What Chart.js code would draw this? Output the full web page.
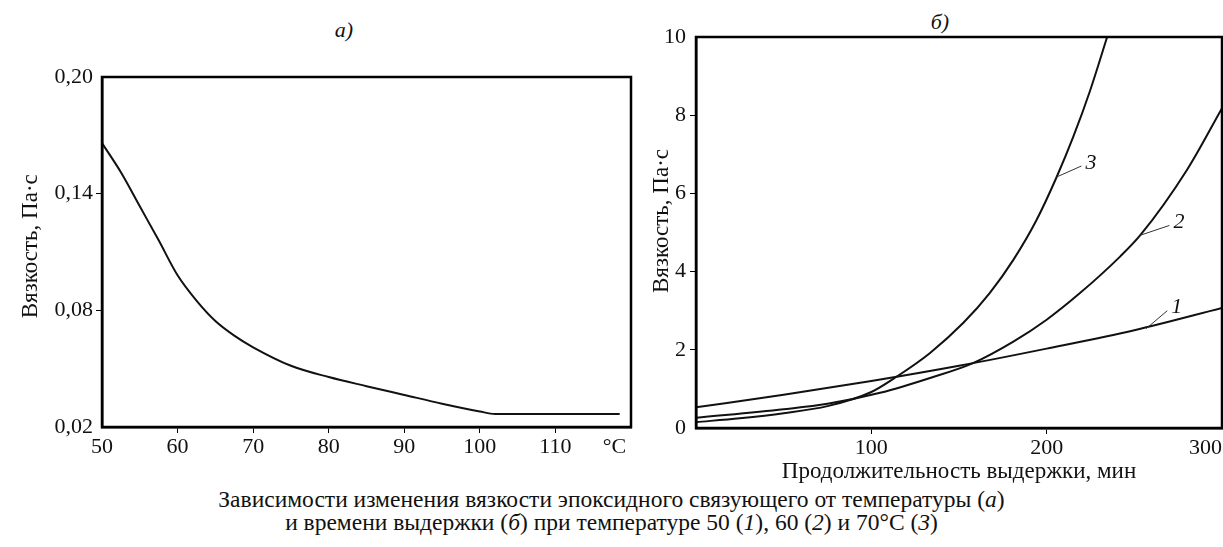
<!DOCTYPE html>
<html lang="ru">
<head>
<meta charset="utf-8">
<script src="https://cdn.jsdelivr.net/npm/chart.js@4.4.1/dist/chart.umd.min.js"></script>
<style>
  html, body { margin: 0; padding: 0; background: #fff; }
  body { width: 1223px; height: 547px; position: relative; overflow: hidden; font-family: 'Liberation Serif', serif; color: #111; }
  .box { position: absolute; }
  #boxA { left: 0; top: 0; width: 645px; height: 465px; }
  #boxB { left: 640px; top: 0; width: 583px; height: 486px; }
  .tag { position: absolute; font-style: italic; font-size: 22px; transform: translate(-50%, -50%); }
  #caption { position: absolute; left: 0; width: 1223px; top: 488px; text-align: center; font-size: 23.5px; line-height: 23px; }
</style>
</head>
<body>
<div class="tag" style="left:344px; top:30px">а)</div>
<div class="tag" style="left:940px; top:22px">б)</div>
<div id="boxA" class="box"><canvas id="chartA"></canvas></div>
<div id="boxB" class="box"><canvas id="chartB"></canvas></div>
<div id="caption">Зависимости изменения вязкости эпоксидного связующего от температуры (<i>а</i>)<br>и времени выдержки (<i>б</i>) при температуре 50 (<i>1</i>), 60 (<i>2</i>) и 70°С (<i>3</i>)</div>
<script>
// а) вязкость от температуры
const tempC = [50, 52.5, 55, 57.5, 60, 62.5, 65, 67.5, 70, 75, 80, 85, 90, 95, 100, 102, 118.5];
const viscTemp = [0.166, 0.151, 0.1335, 0.116, 0.098, 0.085, 0.0745, 0.067, 0.061, 0.0515, 0.0457, 0.041, 0.0365, 0.032, 0.028, 0.0267, 0.0267];
const tempTicks = [50, 60, 70, 80, 90, 100, 110, 120];
const viscTicksA = [0.02, 0.08, 0.14, 0.20];

// б) вязкость от времени выдержки при 50, 60 и 70 °C
const time1 = [0, 50, 100, 150, 200, 250, 300];
const visc1 = [0.53, 0.85, 1.2, 1.59, 2.03, 2.5, 3.07];
const time2 = [0, 50, 75, 105, 133.5, 158, 181, 200, 219, 242, 253.4, 280, 300];
const visc2 = [0.26, 0.48, 0.62, 0.9, 1.28, 1.66, 2.21, 2.77, 3.45, 4.39, 4.93, 6.6, 8.18];
const time3 = [0, 25, 50, 75, 100, 115, 133.5, 152.5, 167.5, 181, 194, 205.7, 215.2, 224.7, 234.5];
const visc3 = [0.15, 0.25, 0.38, 0.56, 0.92, 1.33, 1.92, 2.69, 3.45, 4.3, 5.3, 6.42, 7.45, 8.62, 10];
const timeTicks = [0, 100, 200, 300];
const viscTicksB = [0, 2, 4, 6, 8, 10];

// номера кривых и выноски (в единицах данных)
const curveNames = ['1', '2', '3'];
const leaderFrom = [[256.7, 2.54], [253.4, 4.93], [205.7, 6.42]];
const leaderTo = [[268.8, 3.0], [270, 5.18], [219.8, 6.7]];

const ink = '#111';
const serif = "'Liberation Serif', 'Times New Roman', serif";
const tickFont = { family: serif, size: 22 };
const titleFont = { family: serif, size: 23 };
const pts = (xs, ys) => xs.map((v, i) => ({ x: v, y: ys[i] }));
const line = data => ({ data, borderColor: ink, borderWidth: 2, pointRadius: 0, cubicInterpolationMode: 'monotone', fill: false });
// тики только внутри оси, на краях рамки их нет
const innerTick = ends => ctx => (ctx.tick && ends.includes(ctx.tick.value)) ? 'rgba(0,0,0,0)' : '#000';
// крайние подписи могут выходить за поле графика
const noEdgePad = s => { s.paddingLeft = 0; s.paddingRight = 0; };
const fsp = n => '\u2007'.repeat(n);

const frameBox = {
  id: 'frameBox',
  afterDraw(chart) {
    const { ctx, chartArea: a } = chart;
    ctx.save();
    ctx.strokeStyle = '#000';
    ctx.lineWidth = 2.5;
    ctx.strokeRect(a.left, a.top, a.right - a.left, a.bottom - a.top);
    ctx.restore();
  }
};

const curveTags = {
  id: 'curveTags',
  afterDatasetsDraw(chart) {
    const { ctx, scales: { x, y } } = chart;
    ctx.save();
    ctx.strokeStyle = '#333';
    ctx.lineWidth = 1;
    ctx.fillStyle = ink;
    ctx.font = "italic 22px 'Liberation Serif', serif";
    ctx.textBaseline = 'middle';
    curveNames.forEach((name, i) => {
      const x1 = x.getPixelForValue(leaderTo[i][0]), y1 = y.getPixelForValue(leaderTo[i][1]);
      ctx.beginPath();
      ctx.moveTo(x.getPixelForValue(leaderFrom[i][0]), y.getPixelForValue(leaderFrom[i][1]));
      ctx.lineTo(x1, y1);
      ctx.stroke();
      ctx.fillText(name, x1 + 4, y1 - 3);
    });
    ctx.restore();
  }
};

new Chart(document.getElementById('chartA'), {
  type: 'line',
  data: { datasets: [line(pts(tempC, viscTemp))] },
  options: {
    responsive: true,
    maintainAspectRatio: false,
    animation: false,
    layout: { padding: { left: 13, top: 77, right: 14, bottom: 0 } },
    plugins: { legend: { display: false }, tooltip: { enabled: false } },
    scales: {
      x: {
        type: 'linear', min: 50, max: 120,
        afterBuildTicks: s => { s.ticks = tempTicks.map(v => ({ value: v })); },
        afterFit: s => { s.height = 38; noEdgePad(s); },
        ticks: { color: ink, font: tickFont, padding: 1, maxRotation: 0, autoSkip: false,
                 callback: v => v === 120 ? '°C' + fsp(3) : v },
        grid: { drawOnChartArea: false, tickLength: 6, color: innerTick([50, 120]) },
        border: { color: '#000', width: 2.5 }
      },
      y: {
        type: 'linear', min: 0.02, max: 0.20,
        afterBuildTicks: s => { s.ticks = viscTicksA.map(v => ({ value: v })); },
        afterFit: s => { s.width = 89; },
        ticks: { color: ink, font: tickFont, padding: 3, autoSkip: false,
                 callback: v => v.toFixed(2).replace('.', ',') },
        grid: { drawOnChartArea: false, tickLength: 6, color: innerTick([0.02, 0.2]) },
        border: { color: '#000', width: 2.5 },
        title: { display: true, text: fsp(1) + 'Вязкость, Па·с', color: ink, font: titleFont, padding: { top: 4, bottom: 4 } }
      }
    }
  },
  plugins: [frameBox]
});

new Chart(document.getElementById('chartB'), {
  type: 'line',
  data: { datasets: [line(pts(time1, visc1)), line(pts(time2, visc2)), line(pts(time3, visc3))] },
  options: {
    responsive: true,
    maintainAspectRatio: false,
    animation: false,
    layout: { padding: { left: 4, top: 37, right: 1, bottom: 0 } },
    plugins: { legend: { display: false }, tooltip: { enabled: false } },
    scales: {
      x: {
        type: 'linear', min: 0, max: 300,
        afterBuildTicks: s => { s.ticks = timeTicks.map(v => ({ value: v })); },
        afterFit: s => { s.height = 58; noEdgePad(s); },
        ticks: { color: ink, font: tickFont, padding: 1, maxRotation: 0, autoSkip: false,
                 callback: v => v === 0 ? '' : (v === 300 ? v + fsp(3) : v) },
        grid: { drawOnChartArea: false, tickLength: 6, color: innerTick([0, 300]) },
        border: { color: '#000', width: 2.5 },
        title: { display: true, text: 'Продолжительность выдержки, мин', color: ink, font: titleFont, padding: { top: 0, bottom: 0 } }
      },
      y: {
        type: 'linear', min: 0, max: 10,
        afterBuildTicks: s => { s.ticks = viscTicksB.map(v => ({ value: v })); },
        afterFit: s => { s.width = 52; },
        ticks: { color: ink, font: tickFont, padding: 4, autoSkip: false },
        grid: { drawOnChartArea: false, tickLength: 6, color: innerTick([0, 10]) },
        border: { color: '#000', width: 2.5 },
        title: { display: true, text: fsp(2) + 'Вязкость, Па·с', color: ink, font: titleFont, padding: { top: 4, bottom: 4 } }
      }
    }
  },
  plugins: [frameBox, curveTags]
});
</script>
</body>
</html>
